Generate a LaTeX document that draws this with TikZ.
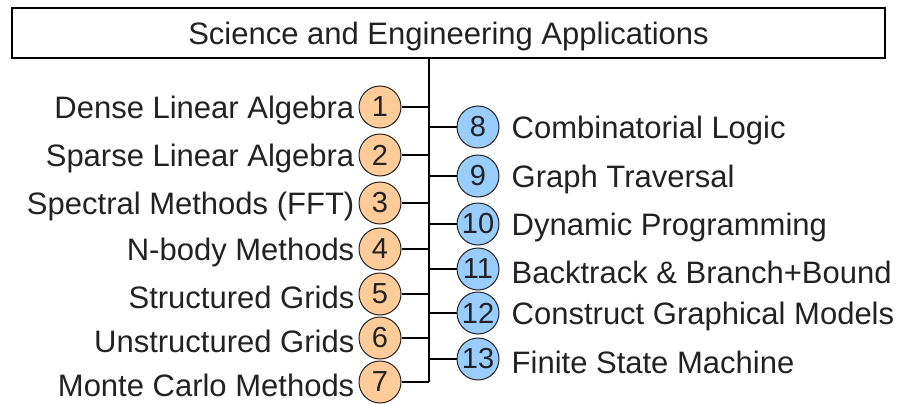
\documentclass[tikz,border=0pt]{standalone}
\usepackage{fontspec}
\setmainfont{Liberation Sans}
\usetikzlibrary{positioning}
\definecolor{inkgray}{HTML}{222222}
\definecolor{sciorange}{HTML}{FFCC99}
\definecolor{engblue}{HTML}{99CCFF}

\begin{document}
\begin{tikzpicture}[x=1pt,y=-1pt,
 title/.style={draw=black,line width=2.4pt,minimum width=873pt,minimum height=50pt,
               inner sep=0pt,text height=24pt,text depth=0pt,
               text=inkgray,font=\fontsize{31}{36}\selectfont},
 num/.style={circle,draw=inkgray,line width=1pt,minimum size=42pt,inner sep=0pt,
             text=inkgray,font=\fontsize{29}{32}\selectfont},
 lnum/.style={num,fill=sciorange},
 rnum/.style={num,fill=engblue},
 lab/.style={inner sep=0pt,text=inkgray,yshift=-3pt,font=\fontsize{31}{36}\selectfont},
 branch/.style={line width=2.4pt,black}]
\useasboundingbox (0,0) rectangle (899,404);
\node[title] (apps) at (448.5,33) {Science and Engineering Applications};
\coordinate (trunktop) at (429,58);
\coordinate (trunkbot) at (429,382);
% left: science kernels
\node[lnum] (l1) at (380,107) {1};
\node[lnum] (l2) at (380,155) {2};
\node[lnum] (l3) at (380,203) {3};
\node[lnum] (l4) at (380,249) {4};
\node[lnum] (l5) at (380,294) {5};
\node[lnum] (l6) at (380,338) {6};
\node[lnum] (l7) at (380,382) {7};
\node[lab,left=4pt of l1] (dense) {Dense Linear Algebra};
\node[lab,left=4pt of l2] (sparse) {Sparse Linear Algebra};
\node[lab,left=4pt of l3] (spectral) {Spectral Methods (FFT)};
\node[lab,left=4pt of l4] (nbody) {N-body Methods};
\node[lab,left=4pt of l5] (structured) {Structured Grids};
\node[lab,left=4pt of l6] (unstructured) {Unstructured Grids};
\node[lab,left=4pt of l7] (montecarlo) {Monte Carlo Methods};
% right: engineering kernels
\node[rnum] (r8) at (478,127) {8};
\node[rnum] (r9) at (478,176) {9};
\node[rnum] (r10) at (478,224) {10};
\node[rnum] (r11) at (478,269) {11};
\node[rnum] (r12) at (478,313) {12};
\node[rnum] (r13) at (478,359) {13};
\node[lab,right=12pt of r8] (combinatorial) {Combinatorial Logic};
\node[lab,right=12pt of r9] (graph) {Graph Traversal};
\node[lab,right=12pt of r10] (dynamic) {Dynamic Programming};
\node[lab,right=12pt of r11] (backtrack) {Backtrack \& Branch+Bound};
\node[lab,right=12pt of r12] (graphical) {Construct Graphical Models};
\node[lab,right=12pt of r13] (fsm) {Finite State Machine};
\draw[branch] (trunktop)--(trunkbot);
\draw[branch] (l1)--(l1-|trunktop);
\draw[branch] (l2)--(l2-|trunktop);
\draw[branch] (l3)--(l3-|trunktop);
\draw[branch] (l4)--(l4-|trunktop);
\draw[branch] (l5)--(l5-|trunktop);
\draw[branch] (l6)--(l6-|trunktop);
\draw[branch] (l7)--(l7-|trunktop);
\draw[branch] (r8-|trunktop)--(r8);
\draw[branch] (r9-|trunktop)--(r9);
\draw[branch] (r10-|trunktop)--(r10);
\draw[branch] (r11-|trunktop)--(r11);
\draw[branch] (r12-|trunktop)--(r12);
\draw[branch] (r13-|trunktop)--(r13);
\end{tikzpicture}
\end{document}
